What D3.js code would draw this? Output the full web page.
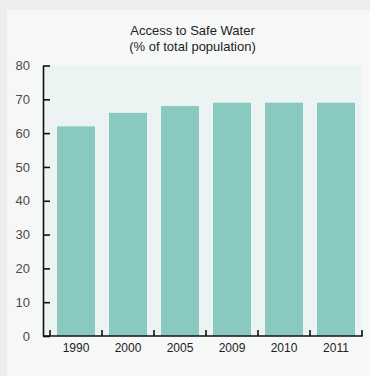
<!DOCTYPE html>
<html>
<head>
<meta charset="utf-8">
<script src="https://cdn.jsdelivr.net/npm/d3@7"></script>
<style>
html,body{margin:0;padding:0;background:#eceeed;}
svg{display:block;}
</style>
</head>
<body>
<svg id="chart" width="370" height="376"></svg>
<script>
const categories = ["1990","2000","2005","2009","2010","2011"];
const values = [62, 66, 68, 69, 69, 69];
const yTicks = [0,10,20,30,40,50,60,70,80];
const titleLines = ["Access to Safe Water", "(% of total population)"];

(function(){
const svg = d3.select("#chart");
const font = "'Liberation Sans', Arial, Helvetica, sans-serif";

// card background
svg.append("rect").attr("x",7).attr("y",10).attr("width",363).attr("height",366).attr("fill","#f6f8f7");

const pLeft = 43, pRight = 362, pTop = 65.5, pBottom = 336;

// plot background
svg.append("rect").attr("x",pLeft).attr("y",pTop).attr("width",pRight-pLeft).attr("height",pBottom-pTop).attr("fill","#ebf4f2");

const y = d3.scaleLinear().domain([0,80]).range([pBottom, pTop]);
const x = d3.scaleBand().domain(categories).range([50, pRight]).paddingInner(0.27).paddingOuter(0.135);

// bars
svg.append("g").selectAll("rect").data(categories).join("rect")
  .attr("x", d => x(d))
  .attr("y", (d,i) => y(values[i]))
  .attr("width", x.bandwidth())
  .attr("height", (d,i) => pBottom - y(values[i]))
  .attr("fill", "#8ac9bf");

// y axis
const yAxis = d3.axisLeft(y).tickValues(yTicks).tickSizeInner(-7).tickSizeOuter(0).tickPadding(13);
const gy = svg.append("g").attr("transform", `translate(${pLeft},0)`).call(yAxis);
gy.select(".domain").attr("stroke","#111").attr("stroke-width",1.6);
gy.selectAll(".tick line").attr("stroke","#111").attr("stroke-width",1.6);
gy.selectAll(".tick text").attr("font-family",font).attr("font-size",13).attr("fill","#4a4a4a");

// x axis line
svg.append("line").attr("x1",pLeft).attr("x2",pRight+0.8).attr("y1",pBottom).attr("y2",pBottom)
  .attr("stroke","#111").attr("stroke-width",1.6);
// boundary ticks
const step = x.step();
const boundaries = d3.range(categories.length+1).map(i => 50 + i*step);
svg.append("g").selectAll("line").data(boundaries).join("line")
  .attr("x1", d => d).attr("x2", d => d).attr("y1", pBottom).attr("y2", pBottom-6)
  .attr("stroke","#111").attr("stroke-width",1.6);

// x labels
svg.append("g").selectAll("text").data(categories).join("text")
  .attr("x", d => x(d) + x.bandwidth()/2)
  .attr("y", 352)
  .attr("text-anchor","middle")
  .attr("font-family",font).attr("font-size",12).attr("fill","#222")
  .text(d => d);

// title
svg.append("g").selectAll("text").data(titleLines).join("text")
  .attr("x", 192.5)
  .attr("y", (d,i) => 35 + i*16)
  .attr("text-anchor","middle")
  .attr("font-family",font).attr("font-size",13).attr("fill","#222")
  .text(d => d);
})();
</script>
</body>
</html>
